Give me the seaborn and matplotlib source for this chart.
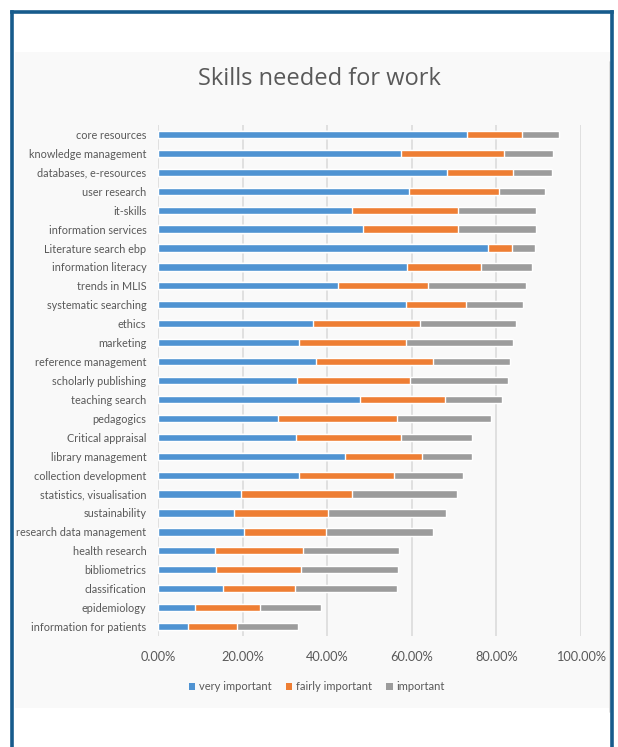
import matplotlib
matplotlib.use("Agg")
import matplotlib.pyplot as plt
from matplotlib.patches import Rectangle, Patch
from matplotlib.lines import Line2D
from matplotlib.ticker import FuncFormatter
import numpy as np
import pandas as pd
import seaborn as sns

# Share of respondents (%) rating each skill
skills = [
    "core resources", "knowledge management", "databases, e-resources",
    "user research", "it-skills", "information services",
    "Literature search ebp", "information literacy", "trends in MLIS",
    "systematic searching", "ethics", "marketing", "reference management",
    "scholarly publishing", "teaching search", "pedagogics",
    "Critical appraisal", "library management", "collection development",
    "statistics, visualisation", "sustainability", "research data management",
    "health research", "bibliometrics", "classification", "epidemiology",
    "information for patients",
]
very_important = [
    73.1, 57.4, 68.4, 59.3, 45.8, 48.5, 78.0, 58.9, 42.6, 58.5, 36.5, 33.4,
    37.2, 32.9, 47.7, 28.3, 32.5, 44.2, 33.4, 19.5, 18.0, 20.2, 13.4, 13.7,
    15.2, 8.7, 7.0,
]
fairly_important = [
    13.0, 24.3, 15.6, 21.2, 25.1, 22.4, 5.7, 17.4, 21.2, 14.3, 25.5, 25.2,
    27.7, 26.7, 20.2, 28.1, 25.0, 18.2, 22.3, 26.3, 22.1, 19.5, 20.9, 20.1,
    17.1, 15.3, 11.6,
]
important = [
    8.8, 11.7, 9.2, 10.9, 18.4, 18.4, 5.3, 12.0, 23.1, 13.4, 22.7, 25.2,
    18.3, 23.1, 13.4, 22.3, 16.6, 11.7, 16.3, 24.8, 28.0, 25.2, 22.7, 22.9,
    24.1, 14.6, 14.4,
]
series_names = ["very important", "fairly important", "important"]
x_ticks = [0, 20, 40, 60, 80, 100]

colors = {"very important": "#4F93D2",
          "fairly important": "#EE7E34",
          "important": "#9C9C9C"}
text_color = "#595959"

df = pd.DataFrame({
    "skill": skills,
    "very important": very_important,
    "fairly important": fairly_important,
    "important": important,
})
# cumulative ends for stacking
df["end_very"] = df["very important"]
df["end_fairly"] = df["end_very"] + df["fairly important"]
df["end_total"] = df["end_fairly"] + df["important"]

sns.set_theme(style="white")
plt.rcParams["font.family"] = ["Lato", "DejaVu Sans"]

fig = plt.figure(figsize=(6.18, 7.47), dpi=100)
fig.patch.set_facecolor("white")

# light panel behind the chart
fig.patches.append(Rectangle((15 / 618, 1 - 708 / 747), (610 - 15) / 618,
                             (708 - 52) / 747, transform=fig.transFigure,
                             facecolor="#F9F9F9", edgecolor="none", zorder=-5))
fig.lines.append(Line2D([610 / 618, 610 / 618], [1 - 62 / 747, 1 - 712 / 747],
                        transform=fig.transFigure, color="#DADADA", lw=1.2, zorder=-4))
# dark blue frame
frame_kw = dict(transform=fig.transFigure, color="#175B8C", lw=2.6,
                solid_capstyle="projecting", zorder=10)
fig.lines.append(Line2D([12 / 618, 12 / 618], [0, 1 - 12 / 747], **frame_kw))
fig.lines.append(Line2D([12 / 618, 612 / 618], [1 - 12 / 747, 1 - 12 / 747], **frame_kw))
fig.lines.append(Line2D([612 / 618, 612 / 618], [0, 1 - 12 / 747], **frame_kw))

ax = fig.add_axes([158.3 / 618, 1 - 636 / 747, (581 - 158.3) / 618, (636 - 125) / 747])
ax.set_facecolor("none")

bar_w = 0.38
sns.barplot(data=df, x="end_total", y="skill", color=colors["important"],
            width=bar_w, ax=ax, saturation=1, zorder=3)
sns.barplot(data=df, x="end_fairly", y="skill", color=colors["fairly important"],
            width=bar_w, ax=ax, saturation=1, zorder=3)
sns.barplot(data=df, x="end_very", y="skill", color=colors["very important"],
            width=bar_w, ax=ax, saturation=1, zorder=3)

ax.set_xlim(0, 100)
ax.set_ylim(len(skills) - 0.5, -0.5)
ax.set_xticks(x_ticks)
ax.xaxis.set_major_formatter(FuncFormatter(lambda v, p: f"{v:.2f}%"))
ax.grid(axis="x", color="#D9D9D9", lw=1.1, zorder=0)
ax.set_axisbelow(True)
for s in ax.spines.values():
    s.set_visible(False)
ax.set_xlabel("")
ax.set_ylabel("")
ax.tick_params(axis="both", length=0, colors=text_color)
ax.tick_params(axis="y", pad=8.5, labelsize=7.8)
ax.tick_params(axis="x", pad=11, labelsize=9.2)

fig.text(319 / 618, 1 - 79 / 747, "Skills needed for work", ha="center",
         va="center", fontsize=17, color=text_color, family=["Open Sans", "DejaVu Sans"])

handles = [Patch(facecolor=colors[n], edgecolor="none", label=n) for n in series_names]
fig.legend(handles=handles, loc="center", bbox_to_anchor=(316.5 / 618, 1 - 687 / 747),
           ncol=3, frameon=False, fontsize=8.0, handlelength=0.6, handleheight=0.6,
           handletextpad=0.3, columnspacing=1.3, labelcolor=text_color)

fig.savefig("out.png", dpi=100, facecolor="white")
